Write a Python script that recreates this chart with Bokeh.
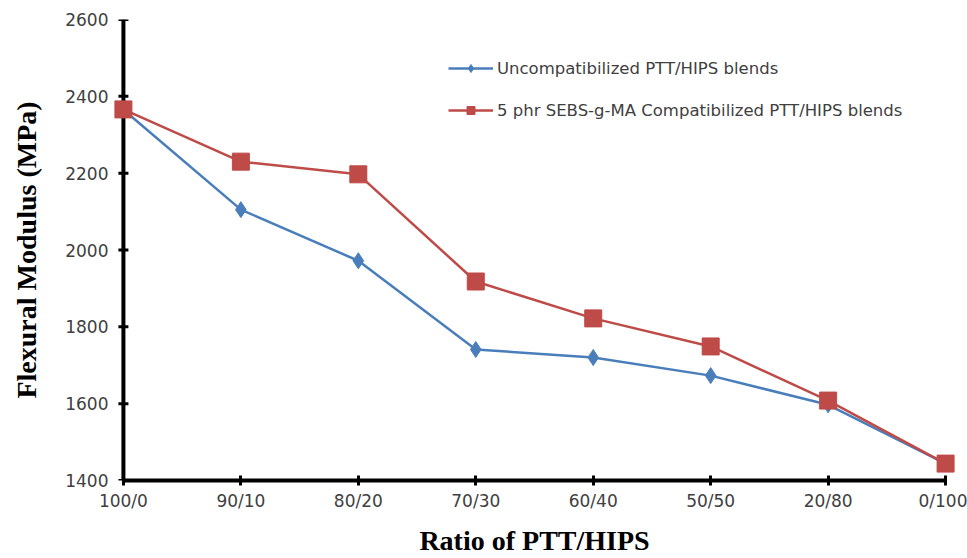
from bokeh.plotting import figure
from bokeh.models import Range1d, FixedTicker, Legend, LegendItem, Span
from bokeh.embed import file_html
from bokeh.resources import INLINE

categories = ["100/0", "90/10", "80/20", "70/30", "60/40", "50/50", "20/80", "0/100"]
uncompat = [2365, 2105, 1972, 1741, 1720, 1673, 1597, 1444]
compat = [2366, 2230, 2197, 1918, 1822, 1749, 1608, 1444]
y_ticks = [1400, 1600, 1800, 2000, 2200, 2400, 2600]

xs = list(range(len(categories)))
n = len(categories) - 1
pad = 0.11

p = figure(width=967, height=558, output_backend="svg", toolbar_location=None,
           x_range=Range1d(-pad, n + pad), y_range=Range1d(1400, 2600),
           min_border_left=110, min_border_top=19, min_border_right=9, min_border_bottom=78)
p.outline_line_color = None
p.xgrid.grid_line_color = None
p.ygrid.grid_line_color = None

blue = "#4A7EBB"
red = "#BE4B48"

# y axis line and ticks drawn at the first category position (x = 0)
p.add_layout(Span(location=xs[0], dimension="height", line_color="black",
                  line_width=4, level="underlay"))
p.scatter([xs[0]] * len(y_ticks), y_ticks, marker="dash", size=10,
          line_color="black", line_width=3, level="underlay")

l1 = p.line(xs, uncompat, line_color=blue, line_width=2.5)
m1 = p.scatter(xs, uncompat, marker="diamond", size=16, fill_color=blue, line_color=blue)
l2 = p.line(xs, compat, line_color=red, line_width=2.5)
m2 = p.scatter(xs, compat, marker="square", size=17, fill_color=red, line_color=red)

p.xaxis.ticker = FixedTicker(ticks=xs)
p.xaxis.major_label_overrides = {i: c for i, c in enumerate(categories)}
p.xaxis.bounds = (0, n)
p.yaxis.ticker = FixedTicker(ticks=y_ticks)

for ax in (p.xaxis[0], p.yaxis[0]):
    ax.axis_line_width = 4
    ax.axis_line_color = "black"
    ax.major_tick_line_width = 3
    ax.major_tick_line_color = "black"
    ax.major_tick_in = 5
    ax.major_tick_out = 5
    ax.minor_tick_line_color = None
    ax.major_label_text_font = "DejaVu Sans"
    ax.major_label_text_font_size = "17px"
    ax.major_label_text_color = "#404040"
    ax.axis_label_text_font = "Liberation Serif"
    ax.axis_label_text_font_style = "bold"
    ax.axis_label_text_font_size = "28px"
    ax.axis_label_text_color = "black"

p.yaxis.axis_line_color = None
p.yaxis.major_tick_line_color = None
p.yaxis.major_tick_in = 0
p.yaxis.major_tick_out = 0

p.xaxis.axis_label = "Ratio of PTT/HIPS"
p.yaxis.axis_label = "Flexural Modulus (MPa)"
p.xaxis.major_label_standoff = 5
p.xaxis.axis_label_standoff = 11
p.yaxis.major_label_standoff = 2
p.yaxis.axis_label_standoff = 20

legend = Legend(items=[
    LegendItem(label="Uncompatibilized PTT/HIPS blends", renderers=[l1, m1]),
    LegendItem(label="5 phr SEBS-g-MA Compatibilized PTT/HIPS blends", renderers=[l2, m2]),
], location=(338, 360))
legend.border_line_color = None
legend.background_fill_alpha = 0
legend.label_text_font = "DejaVu Sans"
legend.label_text_font_size = "16.5px"
legend.label_text_color = "#404040"
legend.glyph_width = 45
legend.glyph_height = 20
legend.label_height = 20
legend.spacing = 22
legend.padding = 5
legend.margin = 0
legend.label_standoff = 4
p.add_layout(legend)

open("out.html", "w").write(file_html(p, INLINE))
